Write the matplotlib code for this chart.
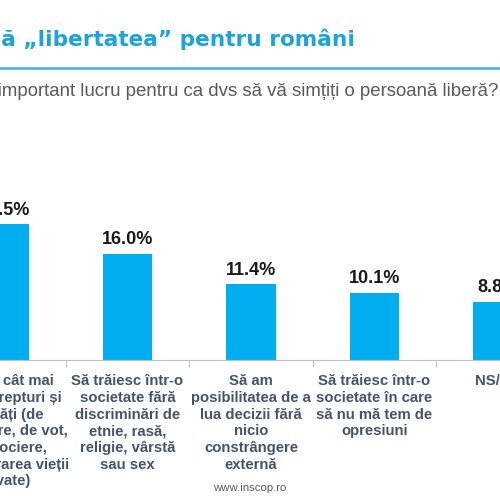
import numpy as np
import matplotlib.pyplot as plt

# date
categorii = [
    "Să am cât mai\nmulte drepturi și\nlibertăți (de\nexprimare, de vot,\nde asociere,\ndesfășurarea vieții\nprivate)",
    "Să trăiesc într-o\nsocietate fără\ndiscriminări de\netnie, rasă,\nreligie, vârstă\nsau sex",
    "Să am\nposibilitatea de a\nlua decizii fără\nnicio\nconstrângere\nexternă",
    "Să trăiesc într-o\nsocietate în care\nsă nu mă tem de\nopresiuni",
    "NS/NR",
]
valori = [20.5, 16.0, 11.4, 10.1, 8.8]
titlu = "Ce înseamnă „libertatea” pentru români"
intrebare = "Care este cel mai important lucru pentru ca dvs să vă simțiți o persoană liberă?"
sursa = "www.inscop.ro"

albastru = "#00AEEF"
titlu_col = "#1CA3DC"
text_col = "#44546A"

fig = plt.figure(figsize=(5, 5), dpi=100)
fig.patch.set_facecolor("white")

# titlu, linie, intrebare
fig.text(355 / 500, 1 - 46 / 500, titlu, ha="right", va="baseline",
         fontsize=15.6, fontweight="bold", color=titlu_col, family="DejaVu Sans")
fig.add_artist(plt.Line2D([0, 1], [1 - 68 / 500, 1 - 68 / 500], color="#3AB2E2", lw=1.8))
fig.text(498 / 500, 1 - 96 / 500, intrebare, ha="right", va="baseline",
         fontsize=13.4, color="#595959", family="Liberation Sans")

ax = fig.add_axes([0, 0.28, 1, 0.32])
x = np.arange(len(valori))
ax.bar(x, valori, width=0.4, color=albastru)
ax.set_xlim(-0.032, 4.016)
ax.set_ylim(0, 24.13)

for i, v in enumerate(valori):
    ax.annotate(f"{v:.1f}%", (i, v), xytext=(0, 4), textcoords="offset points",
                ha="center", va="bottom", fontsize=13, fontweight="bold",
                color="#1A1A1A", family="Liberation Sans")

trans = ax.get_xaxis_transform()
for i, c in enumerate(categorii):
    ax.text(i, -0.09, c, transform=trans, ha="center", va="top",
            multialignment="center", fontsize=10.7, fontweight="bold",
            color=text_col, linespacing=1.24, family="Liberation Sans")

for s in ["top", "left", "right"]:
    ax.spines[s].set_visible(False)
ax.spines["bottom"].set_color("#BFBFBF")
ax.set_yticks([])
ax.set_xticks(x[:-1] + 0.5)
ax.tick_params(axis="x", direction="out", length=5, color="#BFBFBF", labelbottom=False)

fig.text(250 / 500, 1 - 488 / 500, sursa, ha="center", va="center",
         fontsize=8.2, color="#595959", family="Liberation Sans")

fig.savefig("out.png", dpi=100)
